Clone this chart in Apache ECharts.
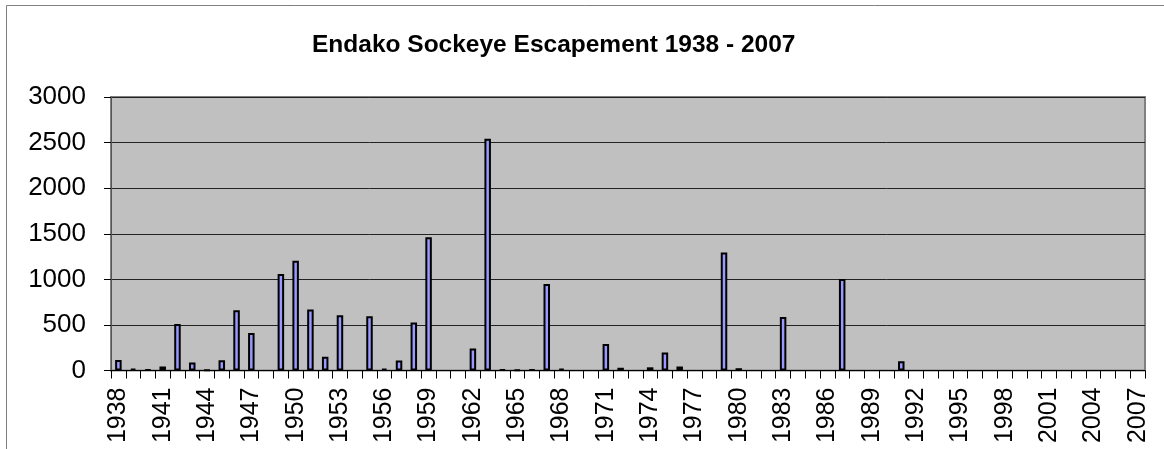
<!DOCTYPE html>
<html>
<head>
<meta charset="utf-8">
<script src="https://cdn.jsdelivr.net/npm/echarts@6/dist/echarts.min.js"></script>
<style>
html,body{margin:0;padding:0;background:#fff;}
#c{width:1164px;height:449px;}
</style>
</head>
<body>
<div id="c"></div>
<script>
const titleText = 'Endako Sockeye Escapement 1938 - 2007';
const years = [];
for (let y = 1938; y <= 2007; y++) years.push(String(y));
// values per year 1938..2007 (null = no bar)
const escapement = [
  115, 20, 10, 45, 510, 88, 5, 112, 662, 412,      // 1938-1947
  null, 1058, 1205, 670, 150, 606, null, 595, 20, 110, // 1948-1957
  527, 1462, null, null, 240, 2543, 10, 8, 10, 950,   // 1958-1967
  20, null, null, 290, 30, null, 35, 197, 45, null,   // 1968-1977
  null, 1293, 25, null, null, 588, null, null, null, 1005, // 1978-1987
  null, null, null, 102, null, null, null, null, null, null, // 1988-1997
  null, null, null, null, null, null, null, null, null, null  // 1998-2007
];
const yTicks = [0, 500, 1000, 1500, 2000, 2500, 3000];

const chart = echarts.init(document.getElementById('c'), null, {renderer: 'canvas'});
chart.setOption({
  animation: false,
  backgroundColor: '#ffffff',
  textStyle: {fontFamily: 'Liberation Sans, Arial, sans-serif'},
  title: {
    text: titleText,
    left: 307, top: 28,
    textStyle: {fontFamily: 'Liberation Sans, Arial, sans-serif', fontWeight: 'bold', fontSize: 24.5, color: '#000'}
  },
  graphic: [
    {type: 'line', shape: {x1: 6.5, y1: 5.5, x2: 1164, y2: 5.5}, style: {stroke: '#808080', lineWidth: 1}},
    {type: 'line', shape: {x1: 6.5, y1: 5.5, x2: 6.5, y2: 449}, style: {stroke: '#808080', lineWidth: 1}}
  ],
  grid: {
    left: 111, right: 19, top: 97, bottom: 78.5,
    show: true, backgroundColor: '#C0C0C0', borderColor: '#808080', borderWidth: 2
  },
  xAxis: {
    type: 'category',
    data: years,
    boundaryGap: true,
    axisLine: {show: true, lineStyle: {color: '#000', width: 1}},
    axisTick: {show: true, interval: 0, length: 8, lineStyle: {color: '#000'}},
    axisLabel: {
      interval: 2, rotate: 90, margin: 17,
      fontSize: 25, color: '#000', fontFamily: 'Liberation Sans, Arial, sans-serif'
    },
    splitLine: {show: false}
  },
  yAxis: {
    type: 'value',
    min: 0, max: 3000, interval: 500,
    axisLine: {show: true, lineStyle: {color: '#555', width: 1}},
    axisTick: {show: true, length: 7, lineStyle: {color: '#000'}},
    axisLabel: {
      margin: 25, fontSize: 26, color: '#000', fontFamily: 'Liberation Sans, Arial, sans-serif',
      formatter: function (v) { return yTicks.indexOf(v) >= 0 ? String(v) : ''; }
    },
    splitLine: {show: true, lineStyle: {color: '#222', width: 1}}
  },
  series: [{
    type: 'bar',
    data: escapement,
    barWidth: 6.5,
    itemStyle: {color: '#9999FF', borderColor: '#000', borderWidth: 2}
  }]
});
</script>
</body>
</html>
